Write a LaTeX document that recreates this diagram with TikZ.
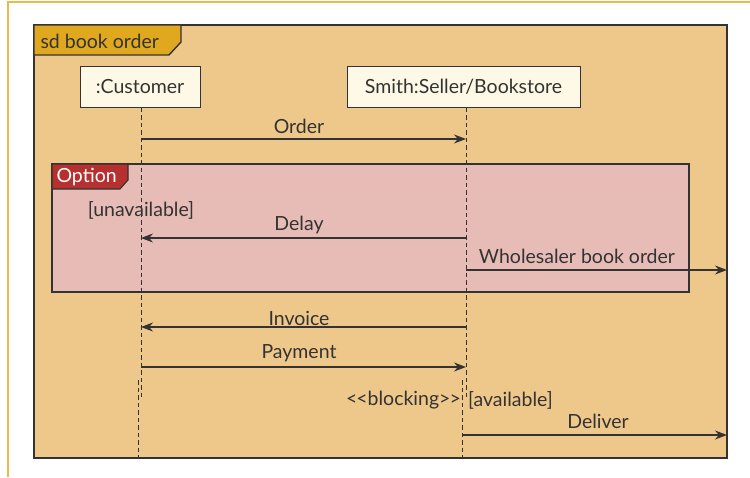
\documentclass[tikz,border=0pt]{standalone}
\usepackage{fontspec}
\setmainfont{Lato}
\usetikzlibrary{arrows.meta}

\definecolor{edge}{HTML}{F0B84A}
\definecolor{tan}{HTML}{EEC88A}
\definecolor{gold}{HTML}{E0A81E}
\definecolor{cream}{HTML}{FDF9E6}
\definecolor{rose}{HTML}{E8BCB6}
\definecolor{brick}{HTML}{B5302F}
\definecolor{ink}{HTML}{333333}

\begin{document}
\begin{tikzpicture}[x=1pt,y=-1pt,
	every node/.style={font=\fontsize{19.5}{22}\selectfont,text=ink},
	actor/.style={draw=ink,fill=cream,line width=1pt,inner sep=0,minimum height=41pt},
	life/.style={draw=ink,dashed,dash pattern=on 4.5pt off 3pt,line width=1pt},
	msg/.style={draw=ink,line width=1.2pt,-{Stealth[length=12pt,width=9pt]}},
	frm/.style={draw=ink,line width=1.4pt}]
	\useasboundingbox (0,0) rectangle (750,477);
	\draw[edge,line width=1.2pt] (8,477) -- (8,2) -- (750,2);
	% frame sd
	\draw[frm,fill=tan] (34,25) rectangle (727,458);
	\draw[frm,fill=gold] (34,25) -- (181,25) -- (181,42) -- (169,55) -- (34,55) -- cycle;
	\node[anchor=west] (sd) at (37,41) {sd book order};
	% option fragment
	\draw[frm,line width=1.1pt,fill=rose] (52,164) rectangle (689,292);
	\draw[frm,line width=1.1pt,fill=brick] (52,164) -- (128,164) -- (128,180) -- (120,189) -- (52,189) -- cycle;
	\node[anchor=west,text=white] (opt) at (53,177) {Option};
	% actors
	\node[actor,minimum width=120pt] (cust) at (140,86.5) {:Customer};
	\node[actor,minimum width=233pt] (sell) at (463.5,86.5) {Smith:Seller/Bookstore};
	% lifelines
	\coordinate (c1) at (141,400);
	\coordinate (c2) at (138,380);
	\coordinate (c3) at (138,458);
	\coordinate (s1) at (466,400);
	\coordinate (s2) at (462.5,380);
	\coordinate (s3) at (462.5,458);
	\draw[life] (cust.south -| c1) -- (c1);
	\draw[life] (c2) -- (c3);
	\draw[life] (sell.south -| s1) -- (s1);
	\draw[life] (s2) -- (s3);
	% messages
	\coordinate (a1) at (141,139);  \coordinate (b1) at (466,139);
	\coordinate (a2) at (141,238);  \coordinate (b2) at (466,238);
	\coordinate (b3) at (466,270);  \coordinate (w3) at (727,270);
	\coordinate (a4) at (141,327);  \coordinate (b4) at (466,327);
	\coordinate (a5) at (141,367);  \coordinate (b5) at (466,367);
	\coordinate (b6) at (462.5,435); \coordinate (w6) at (727,435);
	\draw[msg] (a1) -- (b1);
	\draw[msg] (b2) -- (a2);
	\draw[msg] (b3) -- (w3);
	\draw[msg] (b4) -- (a4);
	\draw[msg] (a5) -- (b5);
	\draw[msg] (b6) -- (w6);
	% labels
	\node (order) at (299,126) {Order};
	\node (unav) at (141,210) {[unavailable]};
	\node (delay) at (299,225) {Delay};
	\node (whole) at (577,256) {Wholesaler book order};
	\node (inv) at (299,318) {Invoice};
	\node (pay) at (299,353) {Payment};
	\node[anchor=east,inner sep=1pt] (block) at (462,400) {{<}\kern-1pt{<}blocking{>}\kern-1pt{>}};
	\node[anchor=west,inner sep=1pt] (avail) at (467,400) {[available]};
	\node (deliv) at (598,421) {Deliver};
\end{tikzpicture}
\end{document}
